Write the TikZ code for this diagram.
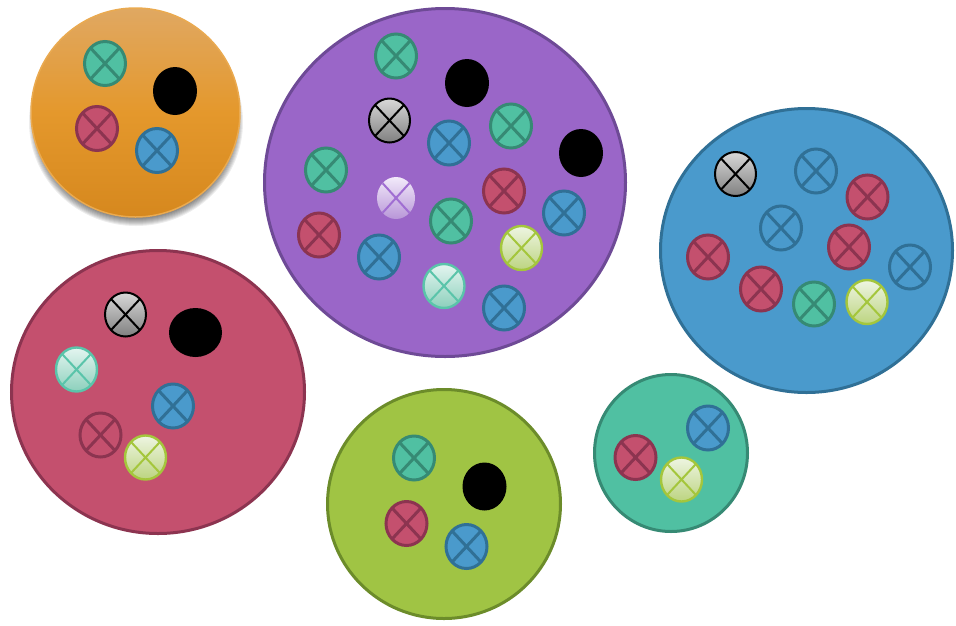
\documentclass[tikz,border=0pt]{standalone}
\usetikzlibrary{shapes.geometric}
\definecolor{orangeT}{RGB}{224,168,98}
\definecolor{orangeM}{RGB}{228,152,44}
\definecolor{orangeBot}{RGB}{214,136,30}
\definecolor{orangeB}{RGB}{234,170,80}
\definecolor{purpleF}{RGB}{154,102,200}
\definecolor{purpleB}{RGB}{110,74,150}
\definecolor{blueF}{RGB}{74,154,204}
\definecolor{blueB}{RGB}{48,112,150}
\definecolor{redF}{RGB}{196,80,110}
\definecolor{redB}{RGB}{140,52,80}
\definecolor{greenF}{RGB}{160,196,68}
\definecolor{greenB}{RGB}{108,140,42}
\definecolor{tealF}{RGB}{80,192,162}
\definecolor{tealB}{RGB}{54,138,116}
\definecolor{limeT}{RGB}{238,245,226}
\definecolor{limeBot}{RGB}{188,212,128}
\definecolor{limeB}{RGB}{164,198,60}
\definecolor{mintT}{RGB}{228,245,240}
\definecolor{mintBot}{RGB}{140,208,188}
\definecolor{mintB}{RGB}{90,196,170}
\definecolor{lilacT}{RGB}{242,234,250}
\definecolor{lilacBot}{RGB}{184,150,216}
\definecolor{lilacX}{RGB}{160,110,210}
\definecolor{grayT}{RGB}{216,216,216}
\definecolor{grayBot}{RGB}{128,128,128}
\begin{document}
\begin{tikzpicture}[x=1pt,y=-1pt,
  crossed/.style={path picture={\draw[#1] (path picture bounding box.north west) -- (path picture bounding box.south east) (path picture bounding box.north east) -- (path picture bounding box.south west);}},
  xm/.style 2 args={ellipse, minimum width=41pt, minimum height=44pt, inner sep=0pt, line width=3pt, draw=#1, fill=#2, crossed={#1, line width=3pt}},
  tealx/.style={xm={tealB}{tealF}},
  redx/.style={xm={redB}{redF}},
  bluex/.style={xm={blueB}{blueF}},
  blueo/.style={xm={blueB}{none}},
  redo/.style={xm={redB}{none}},
  grad/.style n args={3}{ellipse, minimum width=41pt, minimum height=44pt, inner sep=0pt, line width=2pt, draw=#1, top color=#2, bottom color=#3, crossed={#1, line width=2pt}},
  grayx/.style={grad={black}{grayT}{grayBot}},
  limex/.style={grad={limeB}{limeT}{limeBot}, line width=2.4pt},
  mintx/.style={grad={mintB}{mintT}{mintBot}, line width=2.4pt},
  lilacx/.style={ellipse, minimum width=38pt, minimum height=42pt, inner sep=0pt, top color=lilacT, bottom color=lilacBot, crossed={lilacX, line width=2pt}},
  dot/.style={ellipse, minimum width=44pt, minimum height=48pt, inner sep=0pt, fill=black},
  big/.style 2 args={ellipse, inner sep=0pt, line width=3pt, draw=#1, fill=#2},
]
\useasboundingbox (0,0) rectangle (956,625);
% orange shadow
\foreach \i in {1,...,9}{
  \fill[black, opacity=0.07] (136,122) ellipse ({98+\i*1.0} and {95+\i*1.0});
}
% big circles
\node[ellipse, inner sep=0pt, minimum width=209pt, minimum height=209pt, line width=1.5pt, draw=orangeB, top color=orangeT, bottom color=orangeBot, middle color=orangeM] (O) at (135.5,112.5) {};
\node[big={purpleB}{purpleF}, minimum width=361pt, minimum height=348pt] (P) at (445,182.5) {};
\node[big={blueB}{blueF}, minimum width=292pt, minimum height=284pt] (B) at (806.5,250.5) {};
\node[big={redB}{redF}, minimum width=293pt, minimum height=283pt] (R) at (158,392) {};
\node[big={greenB}{greenF}, minimum width=233pt, minimum height=229pt] (G) at (444,504) {};
\node[big={tealB}{tealF}, minimum width=153pt, minimum height=157pt] (T) at (671,453) {};
% orange contents
\node[tealx] (o1) at (105,63.5) {};
\node[dot] (o2) at (175,91) {};
\node[redx] (o3) at (97,128.5) {};
\node[bluex] (o4) at (157,150.5) {};
% purple contents
\node[tealx] (p1) at (396,56) {};
\node[dot] (p2) at (467,83) {};
\node[grayx] (p3) at (389.5,120.5) {};
\node[bluex] (p4) at (449,143) {};
\node[tealx] (p5) at (511,126) {};
\node[dot] (p6) at (581,153) {};
\node[tealx] (p7) at (326,170) {};
\node[lilacx] (p8) at (396,198) {};
\node[redx] (p9) at (504,191) {};
\node[tealx] (p10) at (451,221) {};
\node[bluex] (p11) at (564,213) {};
\node[redx] (p12) at (319,235) {};
\node[bluex] (p13) at (379,257) {};
\node[limex] (p14) at (521.5,248) {};
\node[mintx] (p15) at (444,286) {};
\node[bluex] (p16) at (504,308) {};
% blue contents
\node[grayx] (b1) at (735.5,174) {};
\node[blueo] (b2) at (816,171) {};
\node[redx] (b3) at (867.5,197) {};
\node[blueo] (b4) at (781,228) {};
\node[redx] (b5) at (849,247) {};
\node[redx] (b6) at (708,257) {};
\node[blueo] (b7) at (910,267) {};
\node[redx] (b8) at (761,289) {};
\node[tealx] (b9) at (814,304) {};
\node[limex] (b10) at (867,302) {};
% red contents
\node[grayx] (r1) at (125.5,314.5) {};
\node[dot, minimum width=53pt, minimum height=49pt] (r2) at (195.5,332.5) {};
\node[mintx] (r3) at (76.5,369.5) {};
\node[bluex] (r4) at (173,406) {};
\node[redo] (r5) at (100.5,435) {};
\node[limex] (r6) at (145.5,457.5) {};
% green contents
\node[tealx] (g1) at (414,458) {};
\node[dot] (g2) at (484.5,486.5) {};
\node[redx] (g3) at (406.5,523.5) {};
\node[bluex] (g4) at (466.5,546.5) {};
% teal contents
\node[bluex] (t1) at (708,428) {};
\node[redx] (t2) at (635.5,457.5) {};
\node[limex] (t3) at (681.5,479.5) {};
\end{tikzpicture}
\end{document}
